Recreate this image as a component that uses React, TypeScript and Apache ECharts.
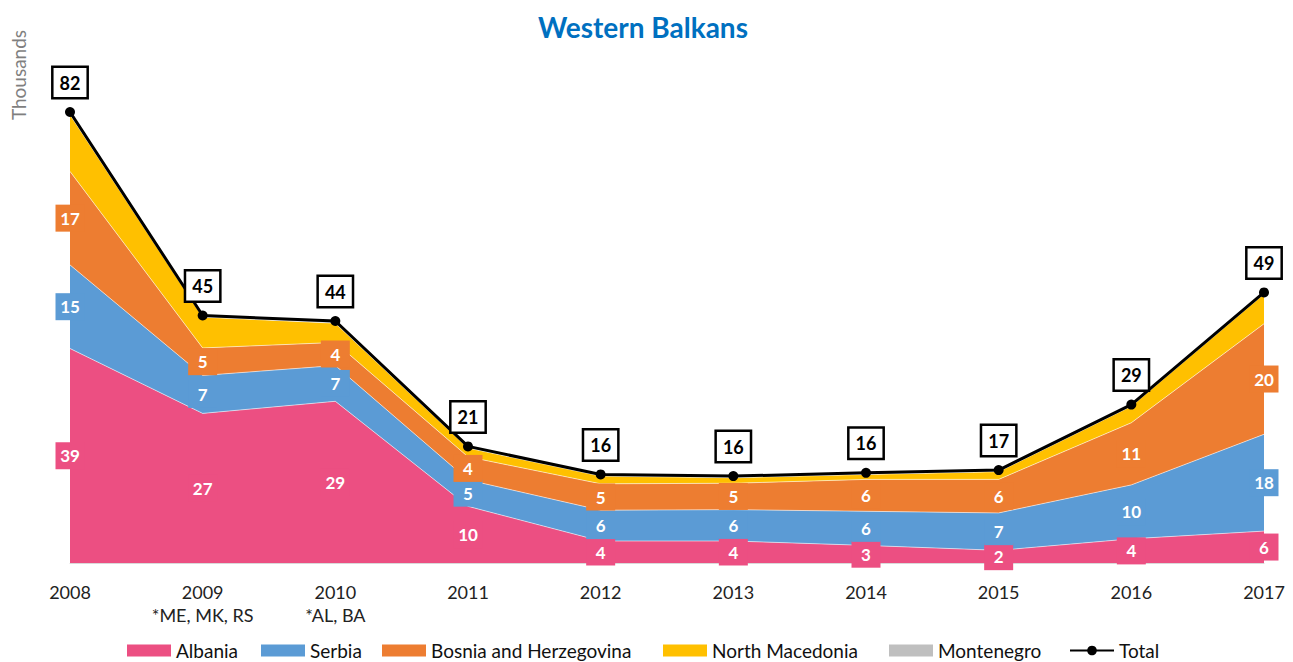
import React, { useEffect, useRef } from 'react';
import * as echarts from 'echarts';

const years = ['2008', '2009', '2010', '2011', '2012', '2013', '2014', '2015', '2016', '2017'];
const notes = ['', '*ME, MK, RS', '*AL, BA', '', '', '', '', '', '', ''];

const albania = [39, 27.2, 29.4, 10.3, 4.0, 4.0, 3.2, 2.3, 4.4, 5.8];
const serbia = [15.2, 6.9, 6.5, 4.8, 5.6, 5.7, 6.2, 6.8, 9.8, 17.6];
const bosnia = [17.0, 5.0, 4.2, 4.2, 4.8, 4.8, 5.8, 6.1, 11.3, 20.1];
const macedonia = [10.3, 5.6, 3.5, 1.6, 1.4, 1.0, 0.9, 1.4, 3.0, 5.4];
const montenegro = [0.5, 0.3, 0.4, 0.3, 0.3, 0.3, 0.3, 0.3, 0.3, 0.3];

const seriesNames = ['Albania', 'Serbia', 'Bosnia and Herzegovina', 'North Macedonia', 'Montenegro'];
const seriesColors = ['#EC4F82', '#5B9BD5', '#ED7D31', '#FFC000', '#BFBFBF'];
const seriesData = [albania, serbia, bosnia, macedonia, montenegro];
const labelled = [true, true, true, false, false];

const legendNames = ['Albania', 'Serbia', 'Bosnia and Herzegovina', 'North Macedonia', 'Montenegro', 'Total'];
const legendLefts = [127, 261, 382, 663, 889, 1069];

const FONT = 'Lato, "Open Sans", sans-serif';

export default function App() {
  const ref = useRef<HTMLDivElement>(null);
  useEffect(() => {
    document.body.style.margin = '0';
    const chart = echarts.init(ref.current!, null, { renderer: 'svg' });

    const totals = years.map((_, i) => seriesData.reduce((s, arr) => s + arr[i], 0));

    const areaSeries: any[] = seriesNames.map((name, k) => ({
      name,
      type: 'line',
      stack: 'total',
      data: seriesData[k],
      symbol: 'none',
      showSymbol: false,
      areaStyle: { color: seriesColors[k], opacity: 1 },
      lineStyle: { width: 1, color: 'rgba(255,255,255,0.55)' },
      itemStyle: { color: seriesColors[k] },
      z: 2,
    }));

    const labelSeries: any[] = [];
    seriesNames.forEach((name, k) => {
      if (!labelled[k]) return;
      const pts = years.map((_, i) => {
        let below = 0;
        for (let j = 0; j < k; j++) below += seriesData[j][i];
        return [i, below + seriesData[k][i] / 2, seriesData[k][i]];
      });
      labelSeries.push({
        name: name + ' labels',
        type: 'scatter',
        data: pts,
        symbolSize: 0.1,
        itemStyle: { color: 'rgba(0,0,0,0)', opacity: 1 },
        silent: true,
        z: 5,
        label: {
          show: true,
          position: 'inside',
          formatter: (p: any) => String(Math.round(p.value[2])),
          backgroundColor: seriesColors[k],
          color: '#fff',
          fontWeight: 'bold',
          fontSize: 17,
          fontFamily: FONT,
          width: 19,
          align: 'center',
          lineHeight: 17,
          padding: [5, 5],
          opacity: 1,
        },
      });
    });

    const totalSeries = {
      name: 'Total',
      type: 'line',
      data: totals,
      symbol: 'circle',
      symbolSize: 10,
      itemStyle: { color: '#000' },
      lineStyle: { color: '#000', width: 3 },
      z: 6,
      label: {
        show: true,
        position: 'top',
        distance: 10,
        formatter: (p: any) => String(Math.round(p.value)),
        backgroundColor: '#fff',
        borderColor: '#000',
        borderWidth: 2.5,
        color: '#000',
        fontWeight: 'bold',
        fontSize: 18,
        fontFamily: FONT,
        lineHeight: 19,
        padding: [5, 6],
      },
    };

    const legends = legendNames.map((n, i) => ({
      left: legendLefts[i],
      top: 641,
      padding: 0,
      itemWidth: 44,
      itemHeight: 12,
      textStyle: { fontSize: 19, lineHeight: 19, color: '#111', fontFamily: FONT },
      data: [n === 'Total' ? { name: n } : { name: n, icon: 'rect' }],
    }));

    chart.setOption({
      animation: false,
      textStyle: { fontFamily: FONT },
      title: {
        text: 'Western Balkans',
        left: 638,
        textAlign: 'center',
        top: 8,
        textStyle: { color: '#0070C0', fontWeight: 'bold', fontSize: 28, fontFamily: FONT },
      },
      graphic: [
        {
          type: 'text',
          x: 18,
          y: 75,
          rotation: Math.PI / 2,
          style: {
            text: 'Thousands',
            fill: '#7F7F7F',
            fontSize: 19,
            fontFamily: FONT,
            align: 'center',
            verticalAlign: 'middle',
          },
        },
      ],
      legend: legends,
      grid: { left: 70, right: 29, top: 68, bottom: 99, containLabel: false },
      xAxis: {
        type: 'category',
        boundaryGap: false,
        data: years,
        axisLine: { lineStyle: { color: '#D9D9D9', width: 1 } },
        axisTick: { show: false },
        axisLabel: {
          color: '#222',
          fontSize: 18,
          fontFamily: FONT,
          margin: 17,
          lineHeight: 23,
          formatter: (v: string, i: number) => (notes[i] ? v + '\n' + notes[i] : v),
        },
      },
      yAxis: {
        type: 'value',
        min: 0,
        max: 90,
        show: false,
        splitLine: { show: false },
      },
      series: [...areaSeries, ...labelSeries, totalSeries],
    });

    return () => chart.dispose();
  }, []);
  return <div ref={ref} style={{ width: 1293, height: 662 }} />;
}
